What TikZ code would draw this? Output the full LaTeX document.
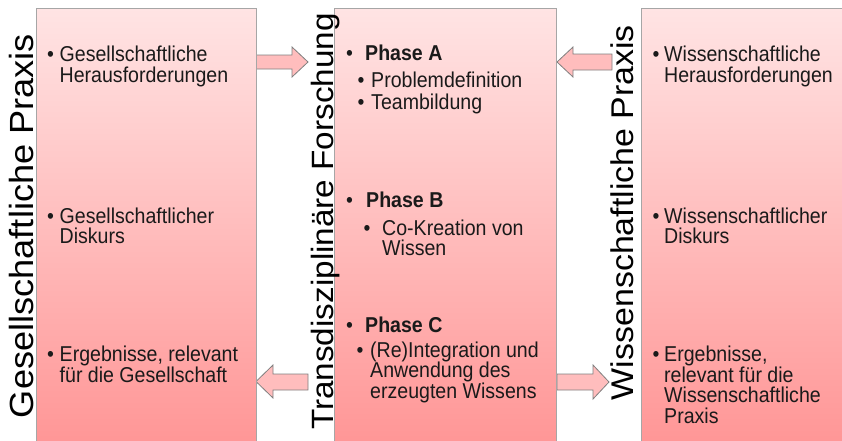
\documentclass[tikz,border=0pt]{standalone}
\usepackage{fontspec}
\setmainfont{Liberation Sans}
\newfontfamily\bodyfont[FakeStretch=0.91]{Liberation Sans}
\newfontfamily\titlefont[FakeStretch=1.08]{Liberation Sans}
\definecolor{boxtop}{HTML}{FFE4E4}
\definecolor{boxbot}{HTML}{FF9696}
\definecolor{boxline}{HTML}{A6A6A6}
\definecolor{arrfill}{HTML}{FFBDBD}
\definecolor{arrline}{HTML}{7F7F7F}
\definecolor{txt}{HTML}{1A1A1A}
\newcommand\lns[1]{\parbox[t]{230pt}{\raggedright\lineskiplimit=-20pt #1}}
\tikzset{
  panel/.style={top color=boxtop, bottom color=boxbot, draw=boxline, line width=0.8pt},
  blockarrow/.style={fill=arrfill, draw=arrline, line width=0.8pt, line join=miter},
  body/.style={anchor=base west, inner sep=0pt, text=txt, font=\bodyfont\fontsize{21.5}{20.5}\selectfont},
  bodyb/.style={body, font=\bodyfont\bfseries\fontsize{21.5}{20.5}\selectfont},
  bul/.style={anchor=base, inner sep=0pt, text=txt, font=\bodyfont\fontsize{21.5}{20.5}\selectfont},
  title/.style={rotate=90, anchor=base, inner sep=0pt, text=black}
}
\begin{document}
\begin{tikzpicture}[x=1pt, y=-1pt]
\useasboundingbox (0,0) rectangle (842,440);
% block arrows
\draw[blockarrow] (256,55) -- (292,55) -- (292,47) -- (308,62) -- (292,77) -- (292,69) -- (256,69) -- cycle;
\draw[blockarrow] (612,54) -- (573,54) -- (573,47) -- (557,62) -- (573,77) -- (573,70) -- (612,70) -- cycle;
\draw[blockarrow] (308,374) -- (273,374) -- (273,365) -- (256,381.5) -- (273,398) -- (273,390) -- (308,390) -- cycle;
\draw[blockarrow] (557,374) -- (593,374) -- (593,365) -- (609,382) -- (593,399) -- (593,390) -- (557,390) -- cycle;
% panels
\shade[panel] (36,8) rectangle (256,444);
\shade[panel] (334,8) rectangle (556,444);
\shade[panel] (641,8) rectangle (848,444);
% titles
\node[title, font=\titlefont\fontsize{33.5}{36}\selectfont] (tl) at (33,226) {Gesellschaftliche Praxis};
\node[title, font=\titlefont\fontsize{30.8}{34}\selectfont] (tm) at (333,221.5) {Transdisziplinäre Forschung};
\node[title, font=\titlefont\fontsize{31.4}{34}\selectfont] (tr) at (633,212.5) {Wissenschaftliche Praxis};
% left panel
\node[bul] (lb1) at (50.5,61.7) {•};
\node[body] (l1) at (59.5,61.7) {\lns{Gesellschaftliche\\Herausforderungen}};
\node[bul] (lb2) at (50.5,223) {•};
\node[body] (l2) at (59.5,223) {\lns{Gesellschaftlicher\\Diskurs}};
\node[bul] (lb3) at (50.5,361.7) {•};
\node[body] (l3) at (59.5,361.7) {\lns{Ergebnisse, relevant\\für die Gesellschaft}};
% middle panel
\node[bul] (mb1) at (349.5,60) {•};
\node[bodyb] (m1) at (365,60) {Phase A};
\node[bul] (mb1a) at (361,87.5) {•};
\node[body] (m1a) at (371,87.5) {Problemdefinition};
\node[bul] (mb1b) at (361,109) {•};
\node[body] (m1b) at (371,109) {Teambildung};
\node[bul] (mb2) at (349.5,207) {•};
\node[bodyb] (m2) at (366,207) {Phase B};
\node[bul] (mb2a) at (367,235) {•};
\node[body] (m2a) at (382,235) {\lns{Co-Kreation von\\Wissen}};
\node[bul] (mb3) at (349.5,332) {•};
\node[bodyb] (m3) at (365,332) {Phase C};
\node[bul] (mb3a) at (360,357) {•};
\node[body] (m3a) at (370,357) {\lns{(Re)Integration und\\Anwendung des\\erzeugten Wissens}};
% right panel
\node[bul] (rb1) at (656,61.5) {•};
\node[body] (r1) at (664,61.5) {\lns{Wissenschaftliche\\Herausforderungen}};
\node[bul] (rb2) at (656,223) {•};
\node[body] (r2) at (664,223) {\lns{Wissenschaftlicher\\Diskurs}};
\node[bul] (rb3) at (656,361.7) {•};
\node[body] (r3) at (664,361.7) {\lns{Ergebnisse,\\relevant für die\\Wissenschaftliche\\Praxis}};
\end{tikzpicture}
\end{document}
